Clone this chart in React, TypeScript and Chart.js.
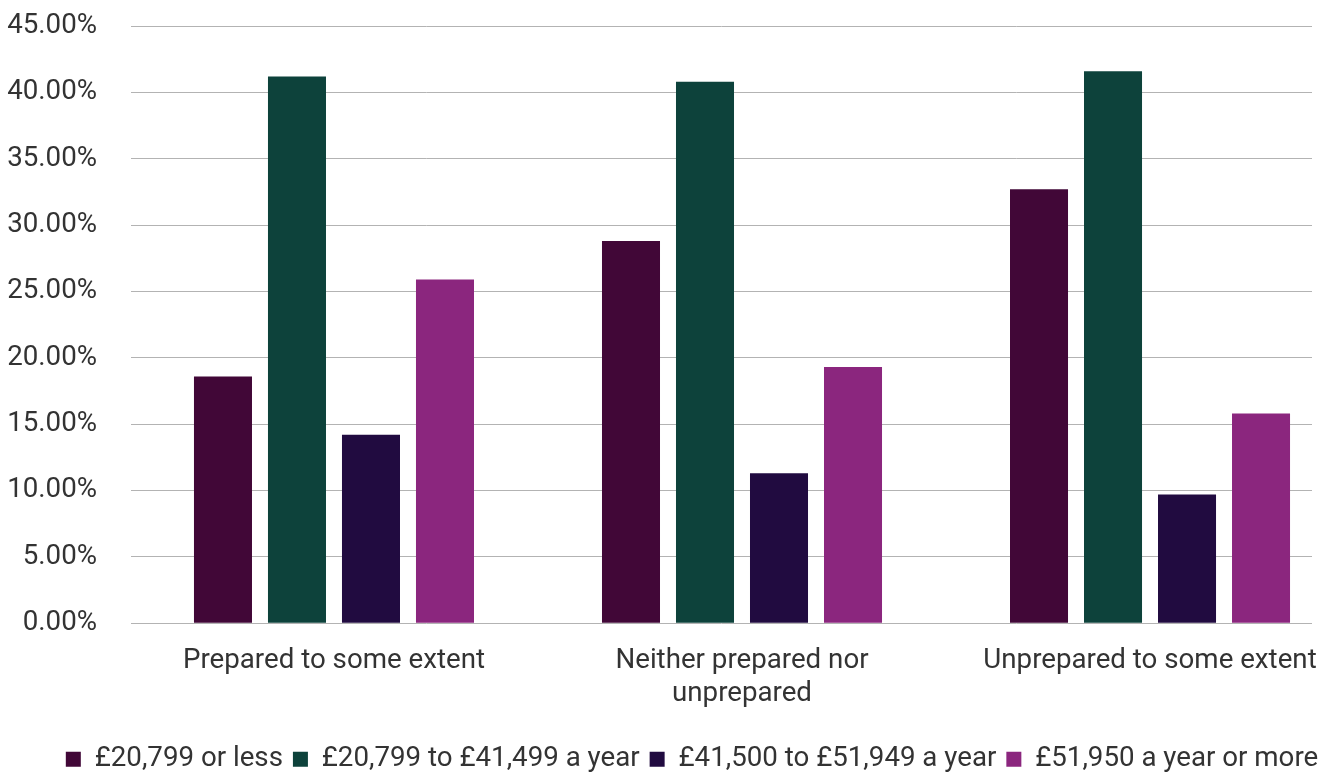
import React, { useEffect, useRef } from "react";
import { Chart, registerables } from "chart.js";

Chart.register(...registerables);

const categories: (string | string[])[] = [
  "Prepared to some extent",
  ["Neither prepared nor", "unprepared"],
  "Unprepared to some extent",
];

const seriesNames = [
  "£20,799 or less",
  "£20,799 to £41,499 a year",
  "£41,500 to £51,949 a year",
  "£51,950 a year or more",
];

const under20799 = [18.6, 28.8, 32.7];
const from20799to41499 = [41.2, 40.8, 41.6];
const from41500to51949 = [14.2, 11.3, 9.7];
const over51950 = [25.9, 19.3, 15.8];

const seriesColors = ["#410737", "#0d423b", "#210b40", "#8b267e"];

const FONT = "Roboto, 'Noto Sans', sans-serif";
const TEXT = "#333333";
const FONT_SIZE = 27.7;

export default function App() {
  const canvasRef = useRef<HTMLCanvasElement | null>(null);

  useEffect(() => {
    document.body.style.margin = "0";
    const canvas = canvasRef.current;
    if (!canvas) return;
    const values = [under20799, from20799to41499, from41500to51949, over51950];
    const chart = new Chart(canvas, {
      type: "bar",
      data: {
        datasets: seriesNames.map((name, i) => ({
          label: name,
          data: values[i].map((v, c) => ({ x: c, y: v })),
          backgroundColor: seriesColors[i],
          borderWidth: 0,
          categoryPercentage: 0.7255,
          barPercentage: 0.784,
        })),
      },
      options: {
        animation: false,
        responsive: false,
        maintainAspectRatio: false,
        layout: { padding: { top: 26, right: -49, left: 0, bottom: -10 } },
        plugins: {
          tooltip: { enabled: false },
          legend: {
            position: "bottom",
            labels: {
              color: TEXT,
              font: { family: FONT, size: FONT_SIZE },
              boxWidth: 15,
              boxHeight: 15,
              padding: 10,
            },
          },
        },
        scales: {
          x: {
            type: "linear",
            offset: false,
            min: -0.4975,
            max: 2.397,
            grid: {
              display: true,
              drawOnChartArea: false,
              drawTicks: true,
              tickLength: 21,
              color: "transparent",
              tickColor: "transparent",
            },
            border: { display: false },
            afterBuildTicks: (scale: any) => {
              scale.ticks = categories.map((_, i) => ({ value: i }));
            },
            ticks: {
              color: TEXT,
              font: { family: FONT, size: FONT_SIZE, lineHeight: 1.19 },
              padding: 0,
              maxRotation: 0,
              minRotation: 0,
              autoSkip: false,
              callback: (v: any) => categories[Number(v)] ?? "",
            },
            afterFit: (scale: any) => {
              scale.height = 112;
            },
          },
          y: {
            min: 0,
            max: 45,
            grid: {
              color: "#b3b3b3",
              lineWidth: 1,
              drawTicks: true,
              tickLength: 34,
              tickColor: "transparent",
            },
            border: { display: false },
            ticks: {
              stepSize: 5,
              color: TEXT,
              font: { family: FONT, size: FONT_SIZE },
              padding: 0,
              callback: (v: any) => Number(v).toFixed(2) + "%",
            },
            afterFit: (scale: any) => {
              scale.width = 131;
            },
          },
          // empty right-hand margin beside the plot
          gutter: {
            type: "linear",
            position: "right",
            grid: { display: false, drawTicks: false },
            border: { display: false },
            ticks: { display: false },
            afterFit: (scale: any) => {
              scale.width = 72;
            },
          },
        },
      },
    });
    return () => chart.destroy();
  }, []);

  return (
    <div style={{ width: 1335, height: 773 }}>
      <canvas ref={canvasRef} width={1335} height={773} style={{ display: "block" }} />
    </div>
  );
}
